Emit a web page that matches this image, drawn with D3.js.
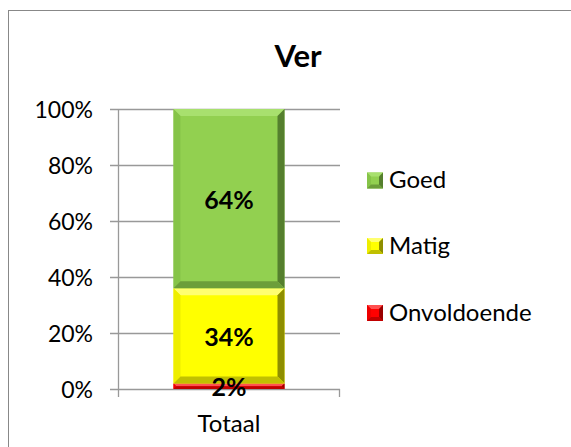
<!DOCTYPE html>
<html><head><meta charset="utf-8">
<script src="https://cdn.jsdelivr.net/npm/d3@7"></script>
<style>body{margin:0;background:#fff;}svg{display:block;font-family:Lato,"Liberation Sans",sans-serif;}</style>
</head><body>
<svg id="c" width="571" height="447"></svg>
<script>
const categories = ["Totaal"];
const seriesNames = ["Onvoldoende", "Matig", "Goed"];
const seriesValues = [[0.02], [0.34], [0.64]];
const yTicks = [0, 0.2, 0.4, 0.6, 0.8, 1.0];
const title = "Ver";

const palette = {
  Goed: {base:"#92D050", top:"#A8E06E", left:"#86C448", right:"#557F2E", bottom:"#6C9E3A"},
  Matig: {base:"#FFFF00", top:"#FFFF70", left:"#EEEE00", right:"#8E8E00", bottom:"#C0C000"},
  Onvoldoende: {base:"#FF0000", top:"#FF5050", left:"#EE0000", right:"#990000", bottom:"#C00000"}
};

const svg = d3.select("#c");
// frame
svg.append("rect").attr("x",8.5).attr("y",10.5).attr("width",600).attr("height",500)
  .attr("fill","#fff").attr("stroke","#888").attr("stroke-width",1);

const plot = {x0:118, x1:340, y0:109, y1:389};
const x = d3.scaleBand().domain(categories).range([plot.x0, plot.x1]).paddingInner(0.5).paddingOuter(0.25);
const y = d3.scaleLinear().domain([0,1]).range([plot.y1, plot.y0]);

// gridlines
svg.append("g").selectAll("line").data(yTicks).join("line")
  .attr("x1",plot.x0-8).attr("x2",plot.x1).attr("y1",d=>Math.round(y(d))+0.5).attr("y2",d=>Math.round(y(d))+0.5)
  .attr("stroke","#999").attr("stroke-width",1.3);
// y axis line
svg.append("line").attr("x1",plot.x0+0.5).attr("x2",plot.x0+0.5).attr("y1",plot.y0).attr("y2",plot.y1+8)
  .attr("stroke","#999").attr("stroke-width",1.3);
// category tick at right
svg.append("line").attr("x1",plot.x1-0.5).attr("x2",plot.x1-0.5).attr("y1",plot.y1).attr("y2",plot.y1+8)
  .attr("stroke","#999").attr("stroke-width",1.3);

// y labels
svg.append("g").selectAll("text").data(yTicks).join("text")
  .attr("x",93).attr("y",d=>y(d)+8.5).attr("text-anchor","end")
  .attr("font-size",23).attr("fill","#000").text(d3.format(".0%"));

// category label
svg.append("text").attr("x",x("Totaal")+x.bandwidth()/2).attr("y",432).attr("text-anchor","middle")
  .attr("font-size",24).text(categories[0]);

function bevel(g, x0, y0, w, h, c, b) {
  b = Math.min(b, h/2, w/2);
  const x1 = x0+w, y1 = y0+h;
  g.append("rect").attr("x",x0).attr("y",y0).attr("width",w).attr("height",h).attr("fill",c.base);
  g.append("polygon").attr("points",[[x0,y0],[x1,y0],[x1-b,y0+b],[x0+b,y0+b]].join(" ")).attr("fill",c.top);
  g.append("polygon").attr("points",[[x0,y0],[x0+b,y0+b],[x0+b,y1-b],[x0,y1]].join(" ")).attr("fill",c.left);
  g.append("polygon").attr("points",[[x1,y0],[x1,y1],[x1-b,y1-b],[x1-b,y0+b]].join(" ")).attr("fill",c.right);
  g.append("polygon").attr("points",[[x0,y1],[x1,y1],[x1-b,y1-b],[x0+b,y1-b]].join(" ")).attr("fill",c.bottom);
}

// stacked bars
const stackData = categories.map((cat,i)=>{const o={cat}; seriesNames.forEach((s,j)=>o[s]=seriesValues[j][i]); return o;});
const stacked = d3.stack().keys(seriesNames)(stackData);
const barG = svg.append("g");
stacked.forEach(layer=>{
  layer.forEach(d=>{
    const bx = x(d.data.cat), bw = x.bandwidth();
    const yt = y(d[1]), yb = y(d[0]);
    bevel(barG, bx, yt, bw, yb-yt, palette[layer.key], 7);
  });
});
// labels
stacked.forEach(layer=>{
  layer.forEach(d=>{
    const cx = x(d.data.cat)+x.bandwidth()/2;
    const cy = (y(d[0])+y(d[1]))/2;
    svg.append("text").attr("x",cx).attr("y",cy+10).attr("text-anchor","middle")
      .attr("font-size",25).attr("font-weight","bold").text(d3.format(".0%")(d[1]-d[0]));
  });
});

// title
svg.append("text").attr("x",298).attr("y",67).attr("text-anchor","middle")
  .attr("font-size",31).attr("font-weight","bold").text(title);

// legend
const legendOrder = ["Goed","Matig","Onvoldoende"];
const legendY = {Goed:180.5, Matig:246, Onvoldoende:313};
const lg = svg.append("g");
legendOrder.forEach(k=>{
  const cy = legendY[k];
  bevel(lg, 367, cy-8, 16, 16, palette[k], 4);
  lg.append("text").attr("x",389).attr("y",cy+7.5).attr("font-size",24).text(k);
});
</script>
</body></html>
